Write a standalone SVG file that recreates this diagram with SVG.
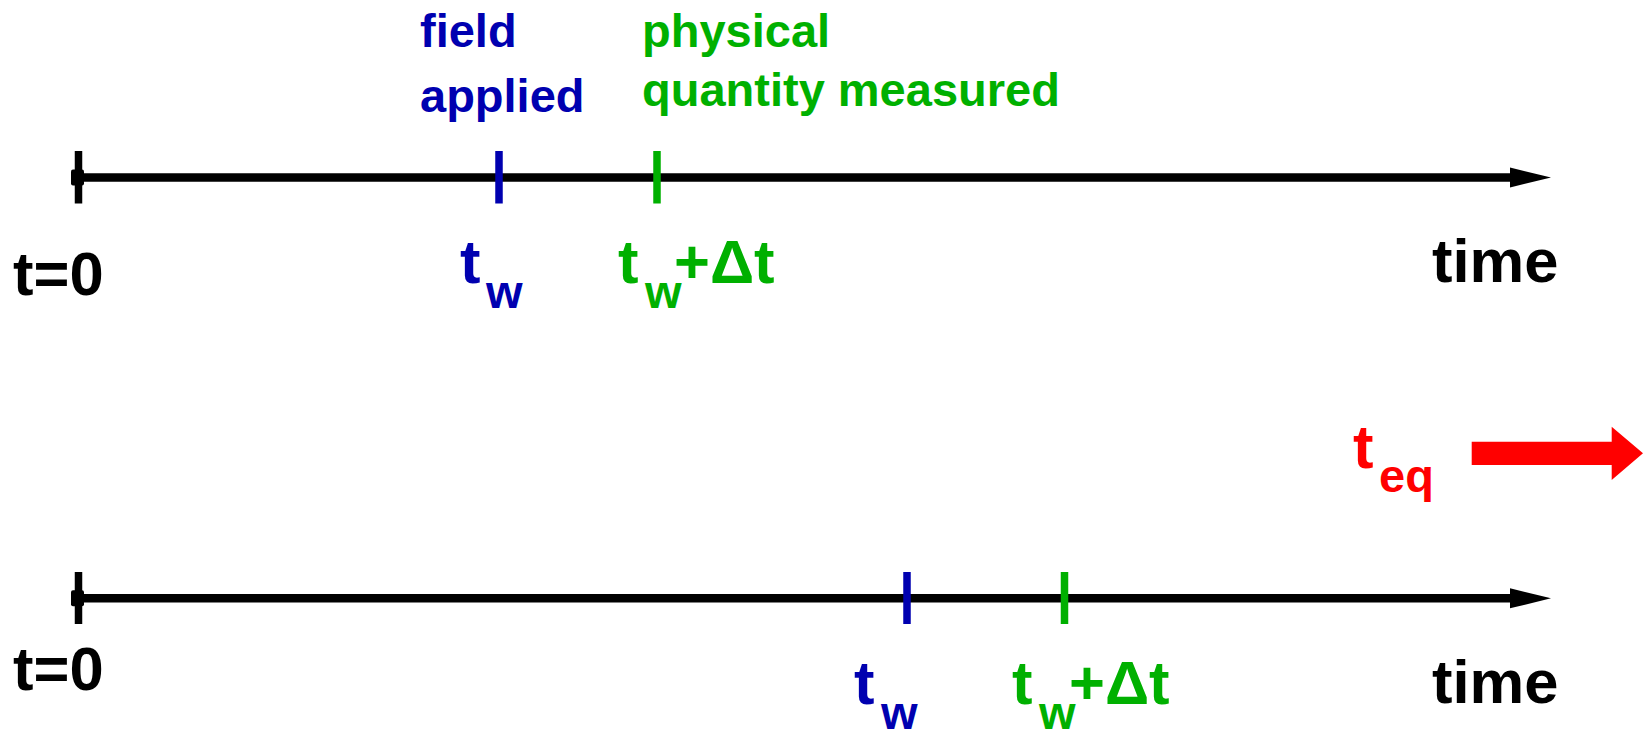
<svg xmlns="http://www.w3.org/2000/svg" width="1648" height="733" viewBox="0 0 1648 733">
<style>
text{font-family:"Liberation Sans",Arial,sans-serif;font-weight:bold}
.big{font-size:61.5px}
.sub{font-size:47px}
.lbl{font-size:47px}
.blue{fill:#0000b0}
.green{fill:#00b000}
.red{fill:#ff0000}
.blk{fill:#000}
.axis{stroke:#000;stroke-width:8.5;fill:none}
.tk{stroke-width:7.5;fill:none}
</style>
<defs>
<marker id="ah" markerUnits="userSpaceOnUse" markerWidth="42" markerHeight="20" refX="0" refY="10" orient="auto" overflow="visible">
<path d="M0,0 L41,10 L0,20 Z" fill="#000"/>
</marker>
</defs>
<rect width="1648" height="733" fill="#fff"/>
<g id="connectors">
<line class="axis" x1="78" y1="177.5" x2="1510" y2="177.5" marker-end="url(#ah)"/>
<line class="axis" x1="78" y1="598.3" x2="1510" y2="598.3" marker-end="url(#ah)"/>
<polygon points="1471.7,441.7 1611.7,441.7 1611.7,426.7 1643,453.3 1611.7,480 1611.7,465 1471.7,465" fill="#ff0000"/>
</g>
<g id="top-t0">
<line class="tk" x1="78.5" y1="151" x2="78.5" y2="203.5" stroke="#000"/>
<rect x="71" y="169.5" width="13" height="16" rx="2" fill="#000"/>
<text class="big blk" x="13" y="295">t=0</text>
</g>
<g id="top-tw">
<line class="tk" x1="499" y1="151" x2="499" y2="203.5" stroke="#0000b0"/>
<text class="lbl blue" x="420" y="47">field</text>
<text class="lbl blue" x="420" y="112">applied</text>
<text class="blue"><tspan class="big" x="460" y="283">t</tspan><tspan class="sub" x="486" y="308">w</tspan></text>
</g>
<g id="top-twdt">
<line class="tk" x1="657" y1="151" x2="657" y2="203.5" stroke="#00b000"/>
<text class="lbl green" x="642" y="47">physical</text>
<text class="lbl green" x="642" y="106">quantity measured</text>
<text class="green"><tspan class="big" x="618" y="283">t</tspan><tspan class="sub" x="645" y="308">w</tspan><tspan class="big" x="674" y="283">+Δt</tspan></text>
</g>
<g id="top-time">
<text class="big blk" x="1432" y="282">time</text>
</g>
<g id="teq">
<text class="red"><tspan class="big" x="1353" y="468">t</tspan><tspan class="lbl" x="1379" y="492">eq</tspan></text>
</g>
<g id="bot-t0">
<line class="tk" x1="78.5" y1="572" x2="78.5" y2="624" stroke="#000"/>
<rect x="71" y="590.3" width="13" height="16" rx="2" fill="#000"/>
<text class="big blk" x="13" y="690">t=0</text>
</g>
<g id="bot-tw">
<line class="tk" x1="907" y1="572" x2="907" y2="624" stroke="#0000b0"/>
<text class="blue"><tspan class="big" x="854" y="704">t</tspan><tspan class="sub" x="881" y="729">w</tspan></text>
</g>
<g id="bot-twdt">
<line class="tk" x1="1064.5" y1="572" x2="1064.5" y2="624" stroke="#00b000"/>
<text class="green"><tspan class="big" x="1012" y="704">t</tspan><tspan class="sub" x="1039" y="729">w</tspan><tspan class="big" x="1069" y="704">+Δt</tspan></text>
</g>
<g id="bot-time">
<text class="big blk" x="1432" y="703">time</text>
</g>
</svg>
